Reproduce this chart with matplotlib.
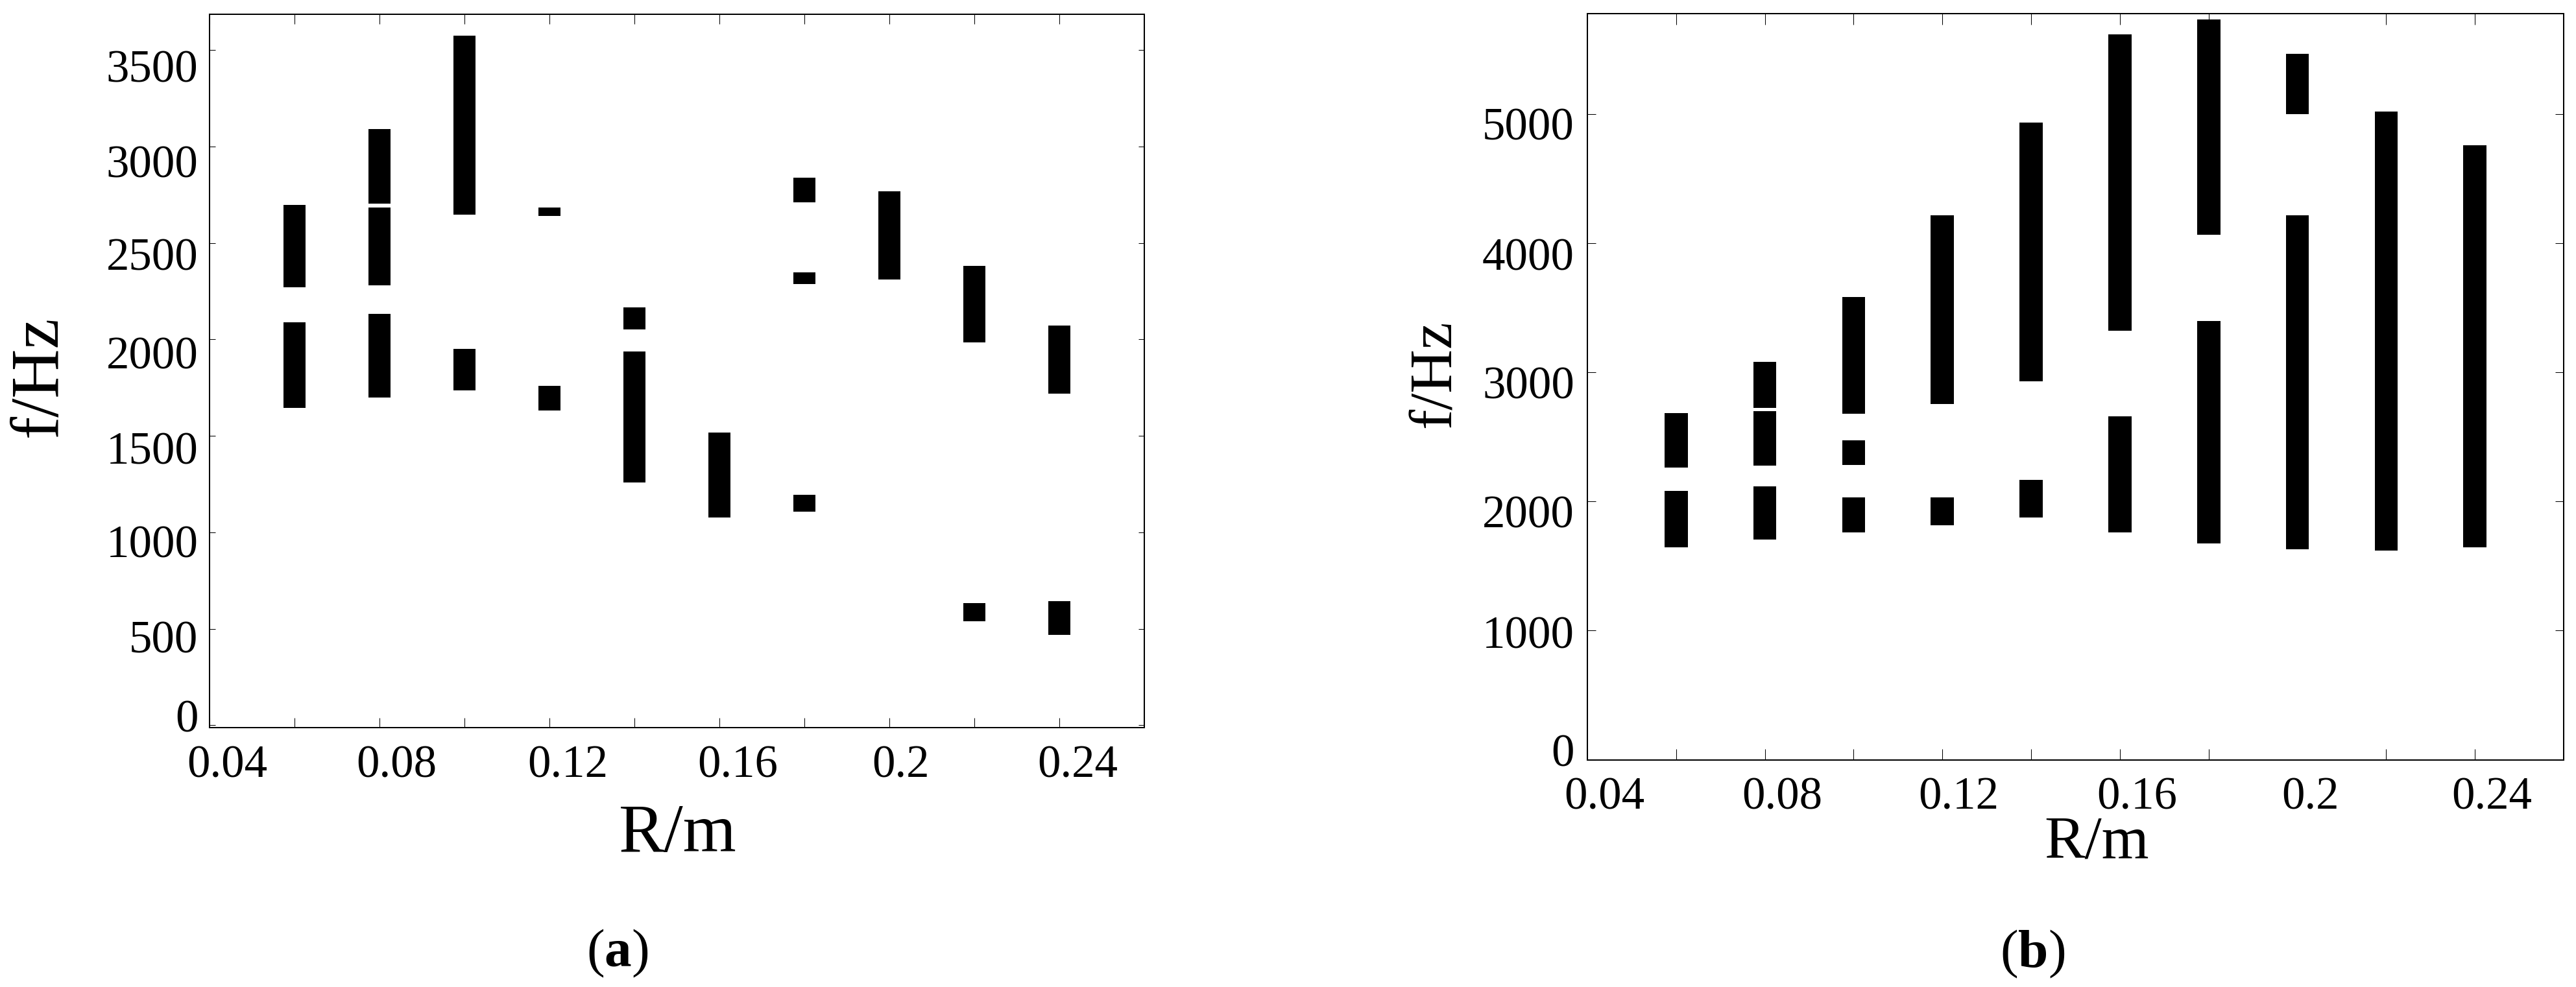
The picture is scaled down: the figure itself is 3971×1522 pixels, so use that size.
import matplotlib
matplotlib.use("Agg")
import matplotlib.pyplot as plt
from matplotlib.transforms import ScaledTranslation
import numpy as np

plt.rcParams['font.family'] = ['Liberation Serif', 'DejaVu Serif']
plt.rcParams['mathtext.fontset'] = 'custom'
plt.rcParams['mathtext.rm'] = 'Liberation Serif'
plt.rcParams['mathtext.bf'] = 'Liberation Serif:bold'

# ---------------- data ----------------
# panel (a): each entry is one frequency band at radius R
a_radius = [0.06, 0.06,
            0.08, 0.08, 0.08,
            0.10, 0.10,
            0.12, 0.12,
            0.14, 0.14,
            0.16,
            0.18, 0.18, 0.18,
            0.20,
            0.22, 0.22,
            0.24, 0.24]
a_f_low = [2271, 1645,
           2702, 2279, 1700,
           2645, 1736,
           2640, 1630,
           2050, 1257,
           1076,
           2709, 2287, 1106,
           2310,
           1986, 539,
           1718, 469]
a_f_high = [2696, 2088,
            3091, 2683, 2132,
            3573, 1952,
            2683, 1759,
            2166, 1937,
            1517,
            2838, 2346, 1193,
            2768,
            2380, 634,
            2073, 642]

# panel (b)
b_radius = [0.06, 0.06,
            0.08, 0.08, 0.08,
            0.10, 0.10, 0.10,
            0.12, 0.12,
            0.14, 0.14,
            0.16, 0.16,
            0.18, 0.18,
            0.20, 0.20,
            0.22,
            0.24]
b_f_low = [2263, 1645,
           2724, 2279, 1706,
           2678, 2282, 1760,
           2755, 1818,
           2928, 1875,
           3324, 1760,
           4065, 1675,
           4999, 1629,
           1622,
           1645]
b_f_high = [2686, 2083,
            3082, 2697, 2117,
            3585, 2471, 2029,
            4215, 2029,
            4934, 2167,
            5618, 2659,
            5733, 3397,
            5468, 4215,
            5022,
            4761]

x_ticks = [0.04, 0.06, 0.08, 0.10, 0.12, 0.14, 0.16, 0.18, 0.20, 0.22, 0.24]
x_ticklabels = ['0.04', '', '0.08', '', '0.12', '', '0.16', '', '0.2', '', '0.24']
a_y_ticks = [0, 500, 1000, 1500, 2000, 2500, 3000, 3500]
b_y_ticks = [0, 1000, 2000, 3000, 4000, 5000]
x_label = 'R/m'
y_label = 'f/Hz'
panel_labels = [r'($\mathbf{a}$)', r'($\mathbf{b}$)']

# ---------------- style / layout ----------------
W, H, DPI = 3971, 1522, 100
fig = plt.figure(figsize=(W / DPI, H / DPI), dpi=DPI)
fig.patch.set_facecolor('white')


def px_rect(x0, x1, ytop, ybot):
    return [x0 / W, (H - ybot) / H, (x1 - x0) / W, (ybot - ytop) / H]


ax_a = fig.add_axes(px_rect(322.7, 1764.0, 22.0, 1122.0))
ax_b = fig.add_axes(px_rect(2447.0, 3952.0, 21.0, 1171.5))

bar_w = 0.0052


def offset_tick_labels(ax, which, offsets_px):
    axis = ax.xaxis if which == 'x' else ax.yaxis
    for tick in axis.get_major_ticks():
        loc = round(float(tick.get_loc()), 4)
        if loc in offsets_px:
            dx, dy = offsets_px[loc]
            tr = ScaledTranslation(dx / DPI, -dy / DPI, fig.dpi_scale_trans)
            tick.label1.set_transform(tick.label1.get_transform() + tr)


def style_axes(ax, ylim, yticks, tick_fs, xlen, ylen, xpad, ypad):
    ax.set_xlim(0.04, 0.26)
    ax.set_ylim(*ylim)
    ax.set_xticks(x_ticks)
    ax.set_xticklabels(x_ticklabels)
    ax.set_yticks(yticks)
    ax.set_yticklabels([str(v) for v in yticks])
    for s in ax.spines.values():
        s.set_linewidth(1.45)
        s.set_color('black')
    ax.tick_params(axis='both', direction='in', top=True, right=True,
                   width=0.75, labelsize=tick_fs, colors='black')
    ax.tick_params(axis='x', length=xlen, pad=xpad)
    ax.tick_params(axis='y', length=ylen, pad=ypad)


# panel (a)
ax_a.bar(a_radius, np.array(a_f_high) - np.array(a_f_low), bottom=a_f_low,
         width=bar_w, color='black', linewidth=0)
style_axes(ax_a, (-12, 3685), a_y_ticks, 51, 10.8, 6.5, 19, 12.5)
offset_tick_labels(ax_a, 'x', {0.04: (28, 0), 0.08: (27, 0), 0.12: (28, 0),
                               0.16: (28, 0), 0.2: (18, 0), 0.24: (28, 0)})
offset_tick_labels(ax_a, 'y', {0: (0, -14.5), 500: (0, 12), 1000: (0, 13.5),
                               1500: (0, 18), 2000: (0, 20), 2500: (0, 16.5),
                               3000: (0, 23), 3500: (0, 24)})
ax_a.set_xlabel(x_label, fontsize=76)
ax_a.xaxis.set_label_coords(0.5012, -0.1736)
ax_a.xaxis.label.set_va('baseline')
ax_a.set_ylabel(y_label, fontsize=76)
ax_a.yaxis.set_label_coords(-0.1809, 0.4923)
ax_a.yaxis.label.set_va('center')
ax_a.yaxis.label.set_ha('center')

# panel (b)
ax_b.bar(b_radius, np.array(b_f_high) - np.array(b_f_low), bottom=b_f_low,
         width=bar_w, color='black', linewidth=0)
style_axes(ax_b, (0, 5778), b_y_ticks, 51, 12.2, 9.2, 18.8, 14.5)
offset_tick_labels(ax_b, 'x', {0.04: (26, 0), 0.08: (26.4, 0), 0.12: (25, 0),
                               0.16: (26.7, 0), 0.2: (20, 0), 0.24: (26.5, 0)})
offset_tick_labels(ax_b, 'y', {0: (0, -15.4), 1000: (0, 2), 2000: (0, 15),
                               3000: (0, 15.7), 4000: (0, 16.5), 5000: (0, 15)})
for tick in ax_b.xaxis.get_major_ticks():
    if abs(tick.get_loc() - 0.20) < 1e-9:
        tick.tick1line.set_visible(False)
        tick.tick2line.set_visible(False)
ax_b.set_xlabel(x_label, fontsize=67.5)
ax_b.xaxis.set_label_coords(0.5216, -0.1315)
ax_b.xaxis.label.set_va('baseline')
ax_b.set_ylabel(y_label, fontsize=67.5)
ax_b.yaxis.set_label_coords(-0.1555, 0.5170)
ax_b.yaxis.label.set_va('center')
ax_b.yaxis.label.set_ha('center')

# sub-figure captions
fig.text(951.7 / W, (H - 1490) / H, panel_labels[0], fontsize=60,
         ha='center', va='baseline')
fig.text(3132.7 / W, (H - 1491.7) / H, panel_labels[1], fontsize=60,
         ha='center', va='baseline')

fig.savefig('out.png', dpi=DPI, facecolor='white')
